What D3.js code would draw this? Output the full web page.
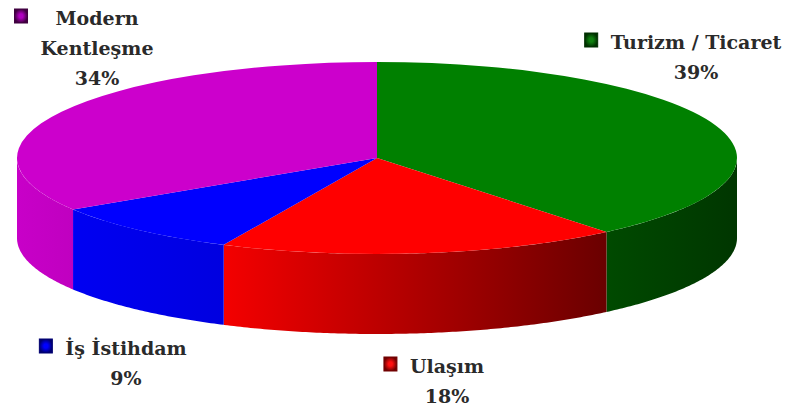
<!DOCTYPE html>
<html>
<head>
<meta charset="utf-8">
<script src="https://cdn.jsdelivr.net/npm/d3@7"></script>
<style>
  html, body { margin: 0; padding: 0; background: #fff; }
  svg { display: block; }
  text { font-family: "DejaVu Serif", "Liberation Serif", serif; font-weight: bold; fill: #2a2a2a; }
</style>
</head>
<body>
<svg id="chart" width="795" height="416"></svg>
<script>
// ---- data ----
const categories = ["Turizm / Ticaret", "Ulaşım", "İş İstihdam", "Modern Kentleşme"];
const values = [39, 18, 9, 34];
const labelLines = [["Turizm / Ticaret"], ["Ulaşım"], ["İş İstihdam"], ["Modern", "Kentleşme"]];
const topColors = ["#008000", "#ff0000", "#0000ff", "#cc00cc"];
const wallColors = [["#004a00", "#003600"], ["#f40000", "#6a0000"], ["#0000f2", "#0000e0"], ["#c800c8", "#c000c0"]];
const markerColors = [["#108010", "#003000"], ["#ff1010", "#700000"], ["#0000ff", "#000070"], ["#b000c0", "#400040"]];

// ---- layout ----
const W = 795, H = 416;
const cx = 377, cy = 158, rx = 360, ry = 96, depth = 80;
// label anchor: text centre x, first baseline y
const labelPos = [[696, 49], [447, 373], [126, 355], [97, 25]];
const lineGap = 30;
const fontSize = 19;

const svg = d3.select("#chart");
const defs = svg.append("defs");

const pie = d3.pie().sort(null).value(d => d);
const arcs = pie(values);

const px = a => cx + rx * Math.sin(a);
const py = a => cy - ry * Math.cos(a);

// ---- walls (front side) ----
const wallG = svg.append("g");
const line = d3.line();
arcs.forEach((d, i) => {
  const a0 = Math.max(d.startAngle, Math.PI / 2);
  const a1 = Math.min(d.endAngle, 3 * Math.PI / 2);
  if (a0 >= a1) return;
  const steps = d3.range(a0, a1, 0.01).concat([a1]);
  const topPts = steps.map(a => [px(a), py(a)]);
  const botPts = steps.slice().reverse().map(a => [px(a), py(a) + depth]);
  const gid = "wall" + i;
  const x0 = px(a0), x1 = px(a1);
  const g = defs.append("linearGradient").attr("id", gid)
    .attr("gradientUnits", "userSpaceOnUse")
    .attr("x1", Math.min(x0, x1)).attr("x2", Math.max(x0, x1))
    .attr("y1", 0).attr("y2", 0);
  const c = wallColors[i];
  const leftC = x0 > x1 ? c[0] : c[1];
  const rightC = x0 > x1 ? c[1] : c[0];
  g.append("stop").attr("offset", 0).attr("stop-color", leftC);
  g.append("stop").attr("offset", 1).attr("stop-color", rightC);
  wallG.append("path")
    .attr("d", line(topPts.concat(botPts)) + "Z")
    .attr("fill", `url(#${gid})`);
});

// ---- top faces ----
const arcGen = d3.arc().innerRadius(0).outerRadius(rx);
svg.append("g")
  .attr("transform", `translate(${cx},${cy}) scale(1,${ry / rx})`)
  .selectAll("path")
  .data(arcs)
  .join("path")
  .attr("d", arcGen)
  .attr("fill", (d, i) => topColors[i]);

// ---- labels ----
const labG = svg.append("g");
categories.forEach((cat, i) => {
  const [tx, ty] = labelPos[i];
  const g = labG.append("g");
  const lines = labelLines[i];
  let maxW = 0;
  lines.forEach((ln, j) => {
    const t = g.append("text")
      .attr("x", tx).attr("y", ty + j * lineGap)
      .attr("text-anchor", "middle")
      .attr("font-size", fontSize)
      .text(ln);
    maxW = Math.max(maxW, t.node().getComputedTextLength());
  });
  g.append("text")
    .attr("x", tx).attr("y", ty + lines.length * lineGap)
    .attr("text-anchor", "middle")
    .attr("font-size", fontSize)
    .text(values[i] + "%");
  // marker
  const mg = defs.append("radialGradient").attr("id", "mk" + i);
  mg.append("stop").attr("offset", 0.3).attr("stop-color", markerColors[i][0]);
  mg.append("stop").attr("offset", 1).attr("stop-color", markerColors[i][1]);
  g.append("rect")
    .attr("x", tx - maxW / 2 - 26).attr("y", ty - 16)
    .attr("width", 13).attr("height", 14)
    .attr("fill", `url(#mk${i})`)
    .attr("stroke", markerColors[i][1]).attr("stroke-width", 1);
});
</script>
</body>
</html>
